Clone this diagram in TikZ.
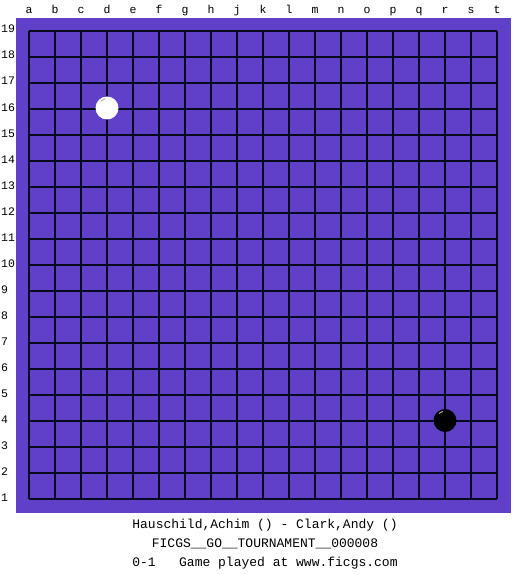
\documentclass[tikz,border=0pt]{standalone}
\usepackage{fontspec}
\setmonofont{Liberation Mono}
\usetikzlibrary{positioning}
\definecolor{boardpurple}{HTML}{6040C8}
\definecolor{gridline}{HTML}{08081E}
\tikzset{
  coord/.style={
    text=black,
    font=\ttfamily\fontsize{11.5}{13}\selectfont,
    inner sep=0pt
  },
  caption/.style={
    text=black,
    font=\ttfamily\fontsize{13}{15}\selectfont,
    inner sep=0pt,
    anchor=base
  },
  grid/.style={
    draw=gridline,
    line width=1.1pt
  },
  whitestone/.style={
    fill=white
  },
  blackstone/.style={
    fill=black
  }
}

\begin{document}
\begin{tikzpicture}[x=1pt,y=-1pt]
  \useasboundingbox (0,0) rectangle (525,575);
  \fill[white] (0,0) rectangle (525,575);

  % board
  \fill[boardpurple] (16,18) rectangle (511,513);
  \foreach \i in {0,...,18} {
    \draw[grid] (29+26*\i,31) -- (29+26*\i,499);
    \draw[grid] (29,31+26*\i) -- (497,31+26*\i);
  }

  % coordinates
  \foreach \l [count=\i from 0] in {a,b,c,d,e,f,g,h,j,k,l,m,n,o,p,q,r,s,t}
    \node[coord, anchor=base] (col\l) at (29+26*\i,14) {\l};
  \foreach \r in {1,...,19}
    \node[coord, anchor=base west] (row\r) at (1,33+26*19-26*\r) {\r};

  % stones
  \fill[whitestone] (107,108) circle (11.5);
  \draw[gray!60, line width=1pt] (101,101) arc (225:255:8.5);
  \fill[blackstone] (445,420.5) circle (11.5);
  \draw[gray!70, line width=1pt] (439,413.5) arc (225:255:8.5);

  % game info
  \node[caption] (players) at (265,528) {Hauschild,Achim () - Clark,Andy ()};
  \node[caption] (event) at (265,547) {FICGS\_\_GO\_\_TOURNAMENT\_\_000008};
  \node[caption] (result) at (265,566) {0-1\ \ \ Game played at www.ficgs.com};
\end{tikzpicture}
\end{document}
